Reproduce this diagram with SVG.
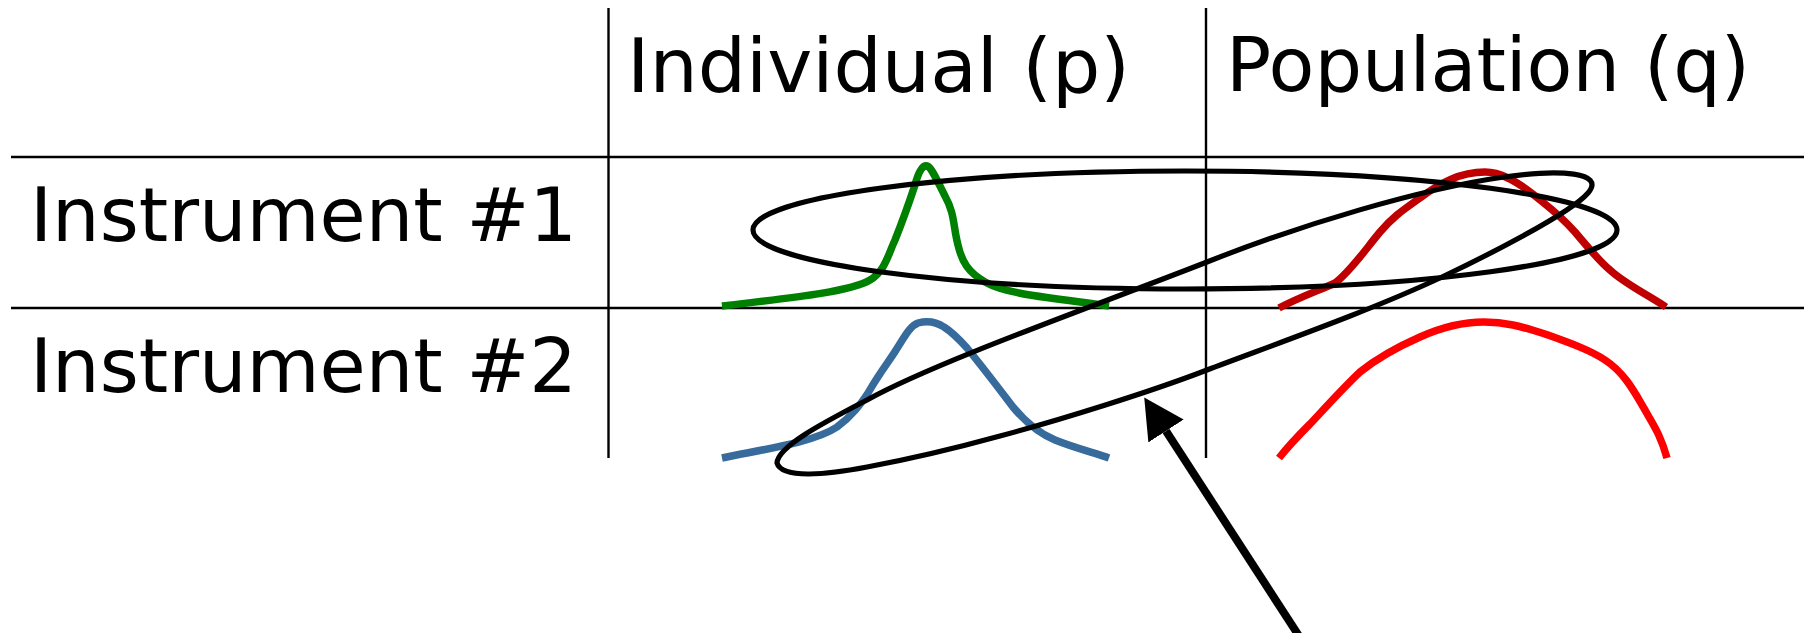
<svg xmlns="http://www.w3.org/2000/svg" width="1804" height="633" viewBox="0 0 1804 633">
<style>
.grid{stroke:#000;stroke-width:2.4;fill:none}
.lbl{font-family:"DejaVu Sans","Verdana",sans-serif;font-size:75px;fill:#000}
.curve{fill:none;stroke-width:7.5;stroke-linejoin:round}
.mark{fill:none;stroke:#000;stroke-width:5.2}
</style>
<defs>
<marker id="head" markerUnits="userSpaceOnUse" viewBox="0 0 40 42" refX="0" refY="21" markerWidth="40" markerHeight="42" orient="auto">
<path d="M0,0 L40,21 L0,42 z" fill="#000"/>
</marker>
</defs>
<rect width="1804" height="633" fill="#fff"/>
<g id="grid">
<line class="grid" x1="608.5" y1="8" x2="608.5" y2="458"/>
<line class="grid" x1="1206" y1="8" x2="1206" y2="458"/>
<line class="grid" x1="11" y1="157" x2="1804" y2="157"/>
<line class="grid" x1="11" y1="308" x2="1804" y2="308"/>
</g>
<g id="header-individual"><text class="lbl" x="627" y="92" textLength="503" lengthAdjust="spacingAndGlyphs">Individual (p)</text></g>
<g id="header-population"><text class="lbl" x="1226" y="91">Population (q)</text></g>
<g id="row-instrument1"><text class="lbl" x="30" y="241">Instrument #1</text></g>
<g id="row-instrument2"><text class="lbl" x="30" y="392">Instrument #2</text></g>
<g id="curve-green"><path class="curve" stroke="#008000" d="M722,306 C790,298 850,292 870,280 C885,271 888,255 895,240 C905,215 910,200 915,185 C919,170 923,165 927,166 C931,167 935,176 945,196 C955,214 953,226 958,245 C962,262 968,272 985,282 C1010,296 1060,298 1109,306"/></g>
<g id="curve-blue"><path class="curve" stroke="#376b9c" d="M722,458 C765,449 815,442 837,427 C852,416 860,405 868,393 C880,372 890,360 896,350 C905,336 910,326 918,323 C925,321 935,321 944,327 C952,332 958,338 967,348 C985,370 1000,390 1013,407 C1028,425 1040,434 1055,440 C1075,448 1095,453 1109,458"/></g>
<g id="curve-darkred"><path class="curve" stroke="#c00000" d="M1279,308 C1300,297 1320,290 1335,283 C1350,272 1365,250 1380,232 C1392,218 1400,212 1420,198 C1440,183 1460,172 1485,172 C1500,172 1515,180 1534,195 C1550,208 1560,215 1575,232 C1590,250 1600,262 1610,270 C1625,284 1645,293 1666,307"/></g>
<g id="curve-red"><path class="curve" stroke="#ff0000" d="M1279,458 C1290,444 1300,434 1310,424 C1325,408 1345,386 1360,372 C1375,360 1395,348 1420,337 C1440,328 1460,322 1484,322 C1505,322 1520,326 1545,334 C1570,343 1590,350 1605,360 C1625,373 1635,393 1645,410 C1652,423 1660,433 1667,458"/></g>
<g id="ellipse-row1"><ellipse class="mark" cx="1185" cy="230" rx="432" ry="59"/></g>
<g id="loop-diagonal"><path class="mark" d="M777,463 C778,446 825,422 867,400 C935,362 1100,304 1207,262 C1300,225 1420,189 1504,177 C1560,169 1606,172 1588,193 C1570,214 1482,258 1442,277 C1370,311 1270,346 1207,370 C1150,392 1060,420 1000,436 C960,447 910,459 867,467 C830,474 782,480 777,463 Z"/></g>
<g id="connectors">
<line x1="1299" y1="636" x2="1166" y2="431" stroke="#000" stroke-width="8" marker-end="url(#head)"/>
</g>
</svg>
